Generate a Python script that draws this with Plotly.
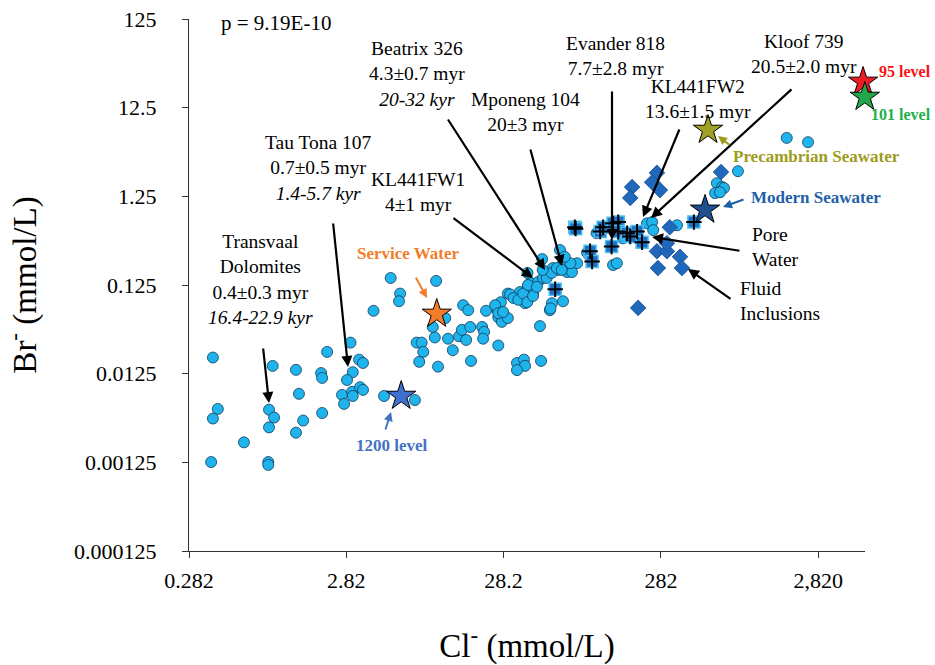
import math
import plotly.graph_objects as go

# ---------------- data (Cl- and Br- in mmol/L) ----------------
gw_cl = [0.40, 0.43, 0.40, 0.63, 0.39, 0.90, 0.90, 0.96, 0.91, 0.98, 0.91, 1.35, 1.41, 1.50, 1.35,
         2.13, 1.95, 1.98, 1.98, 3.0, 3.4, 3.6, 3.1, 2.85, 2.65, 3.07, 3.1, 3.45, 3.6, 2.73,
         4.9, 7.7, 7.9, 8.5, 8.7, 8.2, 5.4, 10.5, 6.2, 6.1, 4.2, 12.0, 10.0, 10.3, 12.5, 13.4,
         10.8, 15.6, 16.8, 14.7, 16.3, 15.3, 17.3, 17.5, 20.6, 21.2, 20.9, 21.8, 26.1, 25.8,
         26.1, 27.5, 30, 27.1, 30, 34.3, 38.6, 35.8, 40.3, 43.4, 41.8, 46.7, 50.2, 54, 58,
         62.6, 67.3, 71.4, 76.7, 82.7, 49.6, 57.2, 55.5, 67.3, 48, 34.3, 38, 38.6, 34.3, 48.8,
         24.9, 26.1, 28, 31, 32.6, 35, 37.6, 39.9, 43.4, 40.3, 45.9, 53, 57, 61.5, 66, 64.4,
         75, 95.6, 100, 56, 40, 50, 69, 140, 148, 162, 174, 110, 230, 248, 252, 357,
         871, 640, 690, 710, 623, 670, 1780, 2430]
gw_br = [0.019, 0.0050, 0.0039, 0.0021, 0.00126, 0.00126, 0.00117, 0.0153, 0.0049, 0.0040, 0.0031,
         0.0138, 0.0074, 0.0037, 0.0027, 0.022, 0.0127, 0.0112, 0.0045, 0.028, 0.018, 0.0165,
         0.013, 0.0106, 0.0072, 0.0078, 0.0070, 0.0088, 0.0082, 0.0057, 0.0070, 0.0063, 0.028,
         0.028, 0.022, 0.017, 0.15, 0.139, 0.10, 0.082, 0.064, 0.053, 0.042, 0.032, 0.031,
         0.023, 0.015, 0.074, 0.065, 0.033, 0.030, 0.039, 0.042, 0.0174, 0.042, 0.037, 0.031,
         0.064, 0.026, 0.065, 0.054, 0.048, 0.053, 0.080, 0.10, 0.089, 0.078, 0.104, 0.119,
         0.10, 0.132, 0.135, 0.150, 0.171, 0.194, 0.185, 0.22, 0.175, 0.175, 0.22, 0.245,
         0.078, 0.065, 0.082, 0.043, 0.0165, 0.018, 0.0153, 0.0137, 0.0174, 0.074, 0.060,
         0.062, 0.098, 0.089, 0.085, 0.10, 0.080, 0.094, 0.125, 0.119, 0.150, 0.171, 0.194,
         0.185, 0.31, 0.22, 0.29, 0.26, 0.068, 0.171, 0.185, 0.26, 0.21, 0.22, 0.42, 0.44,
         0.48, 0.62, 0.64, 0.52, 0.59, 2.4, 1.76, 1.59, 1.55, 1.36, 1.39, 5.7, 5.1]

pore_cl = [60, 80, 81, 100, 103, 116, 121, 140, 151, 151, 137, 172, 199, 214, 180, 457]
pore_br = [0.112, 0.56, 0.54, 0.30, 0.23, 0.50, 0.56, 0.62, 0.64, 0.50, 0.34, 0.48, 0.50, 0.38, 0.44, 0.64]

fi_cl = [266, 248, 278, 185, 180, 321, 266, 308, 308, 373, 270, 384, 202, 680]
fi_br = [2.3, 1.8, 1.47, 1.59, 1.2, 0.56, 0.30, 0.30, 0.37, 0.26, 0.194, 0.194, 0.069, 2.35]

ref_names = ["95 level", "101 level", "Precambrian Seawater", "Modern Seawater", "Service Water", "1200 level"]
ref_cl = [5440, 5580, 562, 538, 10.6, 6.3]
ref_br = [24.4, 16.5, 7.0, 0.88, 0.059, 0.0070]
ref_colors = ["#ee1c24", "#22a84a", "#a0a024", "#1f4f8f", "#f47b2a", "#3f6fcf"]
ref_label_colors = ["#ff1010", "#22b04a", "#9c9c1c", "#1f5fa8", "#f07d2a", "#4472c4"]

x_ticks = [0.282, 2.82, 28.2, 282, 2820]
x_ticktext = ["0.282", "2.82", "28.2", "282", "2,820"]
y_ticks = [0.000125, 0.00125, 0.0125, 0.125, 1.25, 12.5, 125]
y_ticktext = ["0.000125", "0.00125", "0.0125", "0.125", "1.25", "12.5", "125"]

# ---------------- figure ----------------
W, H = 935, 665
ML, MR, MT, MB = 189, 70, 19, 114
PW, PH = W - ML - MR, H - MT - MB
SERIF = "Liberation Serif, Times New Roman, serif"

fig = go.Figure()
fig.add_trace(go.Scatter(x=gw_cl, y=gw_br, mode="markers", showlegend=False, cliponaxis=False,
                         marker=dict(symbol="circle", size=11, color="#1fb4ec",
                                     line=dict(color="#0f3a5c", width=0.8))))
fig.add_trace(go.Scatter(x=pore_cl, y=pore_br, mode="markers", showlegend=False, cliponaxis=False,
                         marker=dict(symbol="square", size=12, color="#1f6fc4",
                                     line=dict(color="#4cc0f0", width=1.5))))
fig.add_trace(go.Scatter(x=pore_cl, y=pore_br, mode="markers", showlegend=False, cliponaxis=False,
                         marker=dict(symbol="cross-thin", size=11, color="black",
                                     line=dict(color="black", width=2))))
fig.add_trace(go.Scatter(x=fi_cl, y=fi_br, mode="markers", showlegend=False, cliponaxis=False,
                         marker=dict(symbol="diamond", size=12, color="#1f68bb",
                                     line=dict(color="#184f90", width=0.8))))
fig.add_trace(go.Scatter(x=ref_cl, y=ref_br, mode="markers", showlegend=False, cliponaxis=False,
                         text=ref_names,
                         marker=dict(symbol="star", size=22, color=ref_colors,
                                     line=dict(color="black", width=1))))


def P(px, py):
    return (px - ML) / PW, (H - MB - py) / PH


annotations = []


def text_ann(text, px, py, size=19.5, color="black", xanchor="center", align="center", bold=False):
    x, y = P(px, py)
    if bold:
        text = "<b>" + text + "</b>"
    annotations.append(dict(x=x, y=y, xref="paper", yref="paper", text=text, showarrow=False,
                            xanchor=xanchor, yanchor="middle", align=align,
                            font=dict(family=SERIF, size=size, color=color)))


def arrow_ann(tail, head, color="black", width=2.2, size=1.0):
    x, y = P(*head)
    annotations.append(dict(x=x, y=y, xref="paper", yref="paper", text="", showarrow=True,
                            ax=tail[0] - head[0], ay=tail[1] - head[1],
                            arrowhead=2, arrowsize=size, arrowwidth=width, arrowcolor=color,
                            standoff=0, startstandoff=0))


text_ann("p = 9.19E-10", 276, 23, size=21)
text_ann("Transvaal<br>Dolomites<br>0.4±0.3 myr<br><i>16.4-22.9 kyr</i>", 260, 279)
text_ann("Tau Tona 107<br>0.7±0.5 myr<br><i>1.4-5.7 kyr</i>", 318, 168)
text_ann("KL441FW1<br>4±1 myr", 418, 192)
text_ann("Beatrix 326<br>4.3±0.7 myr<br><i>20-32 kyr</i>", 417, 74)
text_ann("Mponeng 104<br>20±3 myr", 525, 112)
text_ann("Evander 818<br>7.7±2.8 myr", 615, 56)
text_ann("KL441FW2<br>13.6±1.5 myr", 698, 99)
text_ann("Kloof 739<br>20.5±2.0 myr", 804, 54)
text_ann("Pore<br>Water", 750, 247, xanchor="left", align="left")
text_ann("Fluid<br>Inclusions", 738, 301, xanchor="left", align="left")

text_ann(ref_names[0], 877, 71, size=16, color=ref_label_colors[0], xanchor="left", bold=True)
text_ann(ref_names[1], 869, 114, size=16, color=ref_label_colors[1], xanchor="left", bold=True)
text_ann(ref_names[2], 731, 156, size=17, color=ref_label_colors[2], xanchor="left", bold=True)
text_ann(ref_names[3], 749, 198, size=17, color=ref_label_colors[3], xanchor="left", bold=True)
text_ann(ref_names[4], 408, 253, size=17, color=ref_label_colors[4], bold=True)
text_ann(ref_names[5], 392, 446, size=17, color=ref_label_colors[5], bold=True)

arrow_ann((263, 347), (269, 403))
arrow_ann((333, 222), (348, 367))
arrow_ann((452, 217), (533, 278))
arrow_ann((447, 118), (545, 270))
arrow_ann((530, 148), (562, 266))
arrow_ann((612, 90), (612, 240))
arrow_ann((680, 128), (643, 217))
arrow_ann((793, 88), (651, 218))
arrow_ann((741, 251), (652, 237))
arrow_ann((732, 300), (688, 269))

arrow_ann((415, 276), (427, 298), color=ref_label_colors[4], width=2, size=0.9)
arrow_ann((385, 431), (391, 412), color=ref_label_colors[5], width=2, size=0.9)
arrow_ann((731, 146), (718, 136), color=ref_label_colors[2], width=2, size=0.9)
arrow_ann((745, 199), (723, 207), color=ref_label_colors[3], width=2, size=0.9)

x0 = math.log10(x_ticks[0])
fig.update_layout(
    width=W, height=H,
    margin=dict(l=ML, r=MR, t=MT, b=MB),
    plot_bgcolor="white", paper_bgcolor="white",
    showlegend=False,
    annotations=annotations,
    font=dict(family=SERIF, color="black"),
    xaxis=dict(type="log", range=[x0, x0 + PW / 157.3], tickvals=x_ticks, ticktext=x_ticktext,
               ticks="outside", ticklen=6, tickcolor="#333", showline=True, linecolor="#333",
               linewidth=1, showgrid=False, zeroline=False, ticklabelstandoff=4,
               automargin=False,
               tickfont=dict(family=SERIF, size=22, color="black"),
               title=dict(text="Cl<sup>-</sup> (mmol/L)", standoff=44,
                          font=dict(family=SERIF, size=33, color="black"))),
    yaxis=dict(type="log", range=[math.log10(y_ticks[0]), math.log10(y_ticks[-1])],
               tickvals=y_ticks, ticktext=y_ticktext,
               ticks="outside", ticklen=6, tickcolor="#333", showline=True, linecolor="#333",
               linewidth=1, showgrid=False, zeroline=False, ticklabelstandoff=21,
               automargin=False,
               tickfont=dict(family=SERIF, size=22, color="black"),
               title=dict(text="Br<sup>-</sup> (mmol/L)", standoff=27,
                          font=dict(family=SERIF, size=33, color="black"))),
)

fig.write_html("out.html", config={"displayModeBar": False},
               post_script="document.body.style.margin='0';document.body.style.overflow='hidden';")
